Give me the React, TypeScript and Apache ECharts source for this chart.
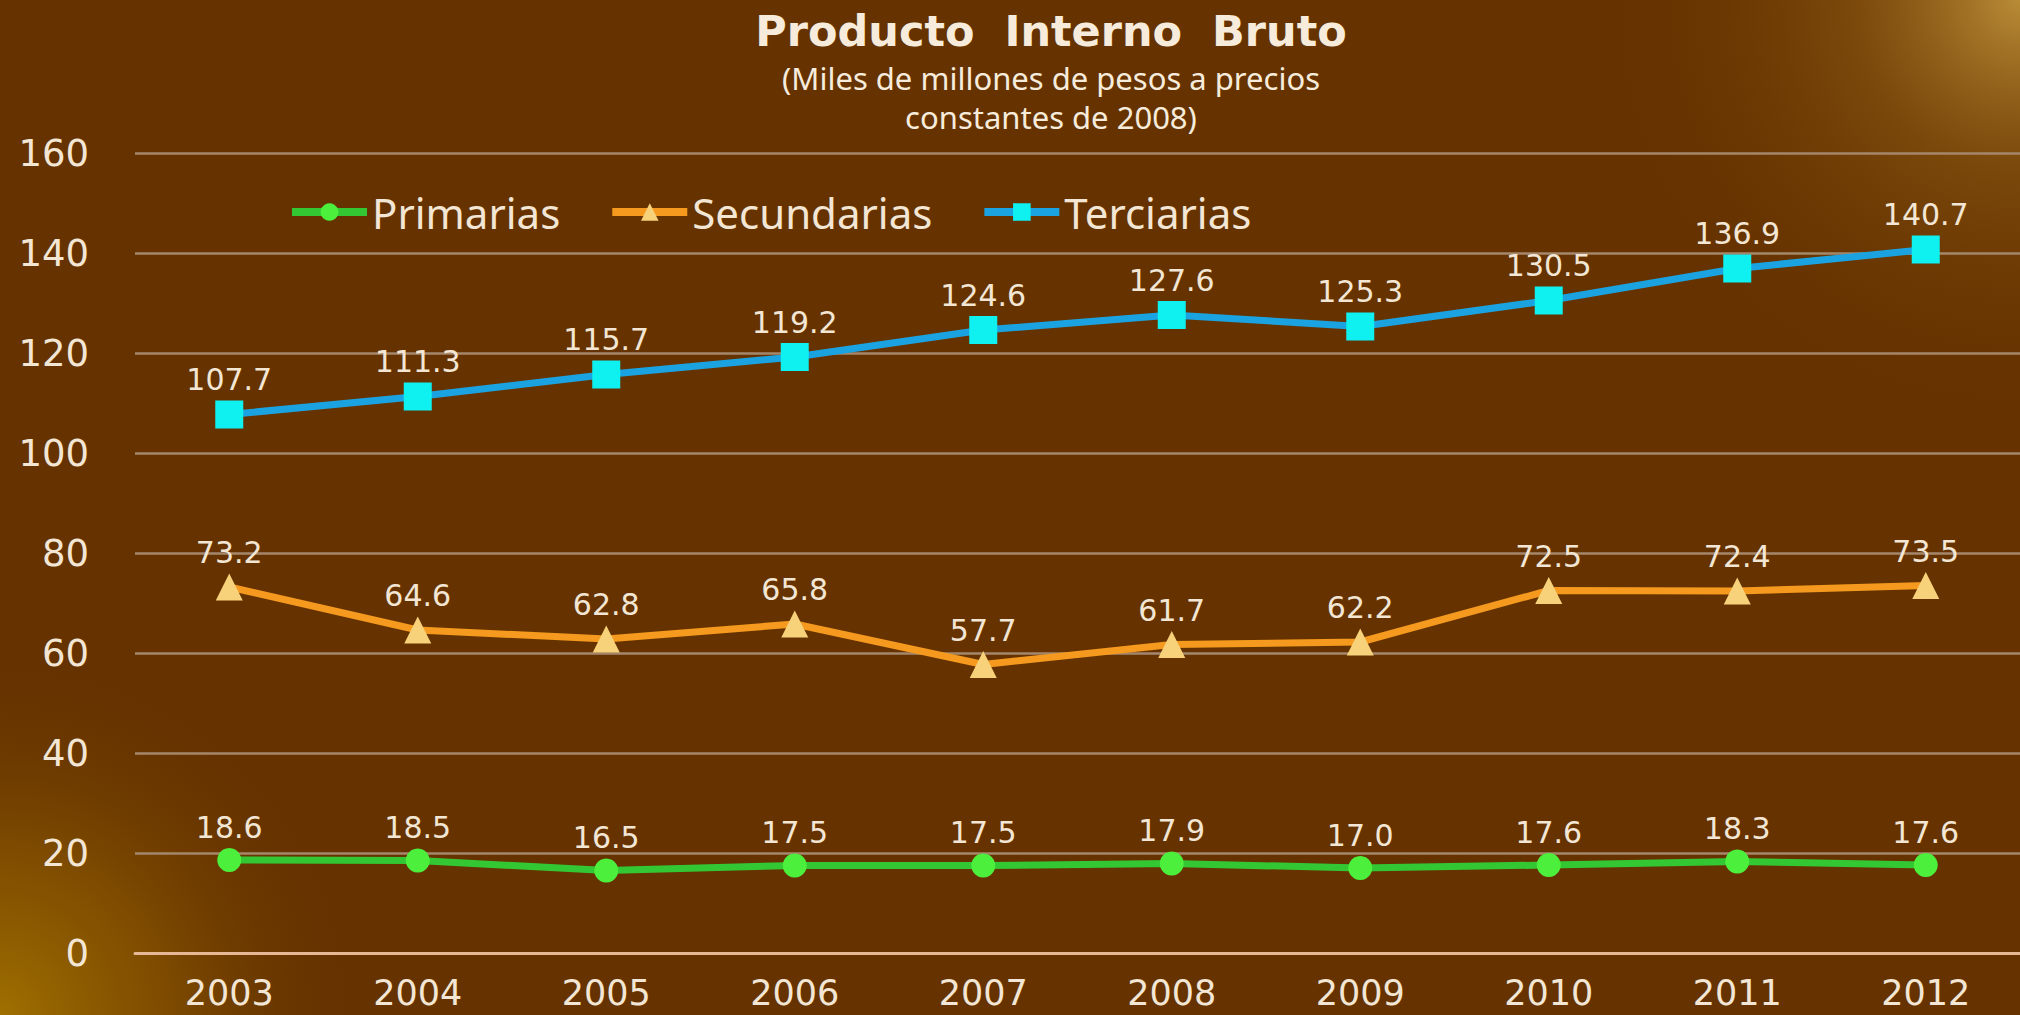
import React, { useEffect, useRef } from "react";
import * as echarts from "echarts";

const years = ["2003", "2004", "2005", "2006", "2007", "2008", "2009", "2010", "2011", "2012"];
const primarias = [18.6, 18.5, 16.5, 17.5, 17.5, 17.9, 17.0, 17.6, 18.3, 17.6];
const secundarias = [73.2, 64.6, 62.8, 65.8, 57.7, 61.7, 62.2, 72.5, 72.4, 73.5];
const terciarias = [107.7, 111.3, 115.7, 119.2, 124.6, 127.6, 125.3, 130.5, 136.9, 140.7];
const seriesNames = ["Primarias", "Secundarias", "Terciarias"];
const yTicks = { min: 0, max: 160, interval: 20 };

const TXT = "#f3e6d4";

export default function App() {
  const ref = useRef<HTMLDivElement>(null);
  useEffect(() => {
    if (!ref.current) return;
    const chart = echarts.init(ref.current, null, { renderer: "svg" });
    const label = {
      show: true,
      position: "top",
      distance: 6,
      color: TXT,
      fontSize: 30,
      fontFamily: "DejaVu Sans",
      formatter: (p: any) => Number(p.value).toFixed(1),
    };
    chart.setOption({
      animation: false,
      backgroundColor: "#663300",
      graphic: [
        {
          type: "circle",
          z: -10,
          silent: true,
          shape: { cx: 2020, cy: 0, r: 420 },
          style: {
            fill: new echarts.graphic.RadialGradient(0.5, 0.5, 0.5, [
              { offset: 0, color: "rgba(185,140,55,1)" },
              { offset: 0.4, color: "rgba(140,90,20,0.55)" },
              { offset: 1, color: "rgba(102,51,0,0)" },
            ]),
          },
        },
        {
          type: "circle",
          z: -10,
          silent: true,
          shape: { cx: 0, cy: 1015, r: 360 },
          style: {
            fill: new echarts.graphic.RadialGradient(0.5, 0.5, 0.5, [
              { offset: 0, color: "rgba(160,112,0,1)" },
              { offset: 0.45, color: "rgba(140,90,0,0.65)" },
              { offset: 1, color: "rgba(102,51,0,0)" },
            ]),
          },
        },
        {
          type: "text",
          x: 1051,
          y: 31,
          style: {
            text: "Producto  Interno  Bruto",
            fill: "#f7ecdc",
            fontSize: 43,
            fontWeight: "bold",
            fontFamily: "DejaVu Sans",
            textAlign: "center",
            textVerticalAlign: "middle",
          },
        },
        {
          type: "text",
          x: 1051,
          y: 97,
          style: {
            text: "(Miles de millones de pesos a precios\nconstantes de 2008)",
            fill: "#f7ecdc",
            fontSize: 31,
            lineHeight: 39,
            fontFamily: "Noto Sans",
            textAlign: "center",
            textVerticalAlign: "middle",
          },
        },
      ],
      legend: {
        data: seriesNames,
        left: 283,
        top: 186,
        itemWidth: 75,
        itemHeight: 22,
        itemGap: 48,
        lineStyle: { width: 8 },
        textStyle: { color: TXT, fontSize: 42, fontFamily: "Noto Sans" },
      },
      grid: { left: 135, right: -8, top: 153, bottom: 62 },
      xAxis: {
        type: "category",
        data: years,
        boundaryGap: true,
        axisLine: { show: true, lineStyle: { color: "#e6b896", width: 3 } },
        axisTick: { show: false },
        axisLabel: { color: TXT, fontSize: 35, fontFamily: "DejaVu Sans", margin: 22 },
      },
      yAxis: {
        type: "value",
        min: yTicks.min,
        max: yTicks.max,
        interval: yTicks.interval,
        axisLine: { show: false },
        axisTick: { show: false },
        axisLabel: { color: TXT, fontSize: 37, fontFamily: "DejaVu Sans", margin: 46 },
        splitLine: { lineStyle: { color: "#a5876b", width: 2.5 } },
      },
      series: [
        {
          name: seriesNames[0],
          type: "line",
          data: primarias,
          symbol: "circle",
          symbolSize: 24,
          lineStyle: { color: "#33c833", width: 7 },
          itemStyle: { color: "#4cf03c" },
          label,
        },
        {
          name: seriesNames[1],
          type: "line",
          data: secundarias,
          symbol: "triangle",
          symbolSize: 27,
          lineStyle: { color: "#f59a1e", width: 7 },
          itemStyle: { color: "#f7d27a" },
          label,
        },
        {
          name: seriesNames[2],
          type: "line",
          data: terciarias,
          symbol: "rect",
          symbolSize: 28,
          lineStyle: { color: "#1aa3e0", width: 7 },
          itemStyle: { color: "#0ff0f0" },
          label,
        },
      ],
    });
    return () => chart.dispose();
  }, []);
  return (
    <div
      ref={ref}
      style={{ position: "absolute", left: 0, top: 0, width: 2020, height: 1015 }}
    />
  );
}
